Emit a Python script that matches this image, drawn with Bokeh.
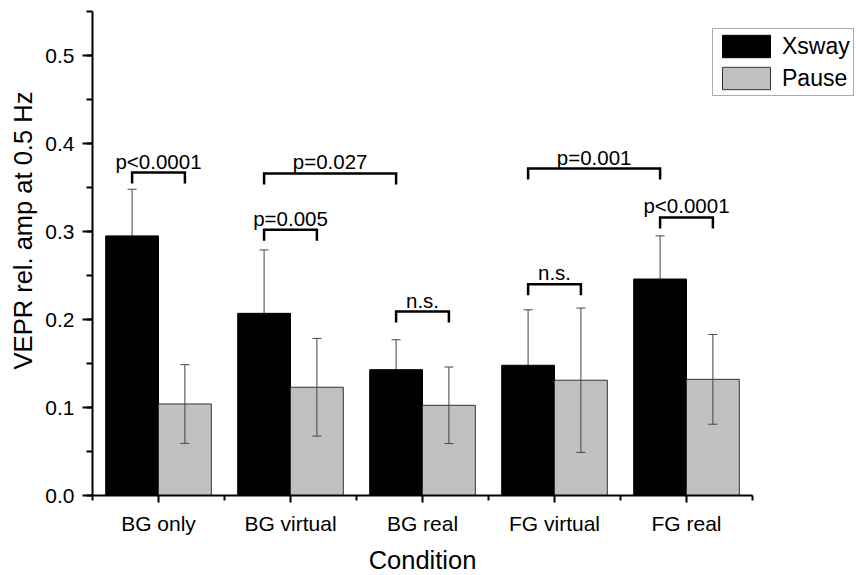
import math
from bokeh.plotting import figure
from bokeh.models import (ColumnDataSource, Whisker, TeeHead, FixedTicker, SingleIntervalTicker,
                          PrintfTickFormatter, Legend, LegendItem, Label, Range1d)
from bokeh.core.properties import value
from bokeh.embed import file_html
from bokeh.resources import INLINE

# ---- data ----
categories = ["BG only", "BG virtual", "BG real", "FG virtual", "FG real"]
xsway = [0.295, 0.207, 0.143, 0.148, 0.246]
xsway_err = [0.053, 0.072, 0.034, 0.063, 0.049]
pause = [0.104, 0.123, 0.1025, 0.131, 0.132]
pause_err = [0.0447, 0.0555, 0.0435, 0.082, 0.051]
y_max = 0.55

# significance brackets: (left category, left series, right category, right series, level, label)
br_left_cat = [0, 1, 1, 2, 3, 3, 4]
br_left_ser = [0, 0, 0, 0, 0, 0, 0]
br_right_cat = [0, 1, 2, 2, 3, 4, 4]
br_right_ser = [1, 1, 0, 1, 1, 0, 1]
br_level = [0.367, 0.302, 0.366, 0.209, 0.240, 0.3715, 0.316]
br_label = ["p<0.0001", "p=0.005", "p=0.027", "n.s.", "n.s.", "p=0.001", "p<0.0001"]
br_leg = 0.0125

FONT = "Liberation Sans"
BAR_W = 0.4
SER_OFF = [-0.2, 0.2]

# layout (pixels)
W, H = 856, 575
AX_LEFT = 92          # x pixel of the y axis
AX_TOP = 11           # y pixel of the top of the y axis
AX_BOTTOM = 495       # y pixel of the x axis
UNIT_PX = 132         # pixels per category

pos = [i + 1 for i in range(len(categories))]

src_x = ColumnDataSource(dict(
    x=[p_ + SER_OFF[0] for p_ in pos], top=xsway,
    upper=[v + e for v, e in zip(xsway, xsway_err)],
    lower=[v - e for v, e in zip(xsway, xsway_err)]))
src_p = ColumnDataSource(dict(
    x=[p_ + SER_OFF[1] for p_ in pos], top=pause,
    upper=[v + e for v, e in zip(pause, pause_err)],
    lower=[v - e for v, e in zip(pause, pause_err)]))

x0 = 0.5 - AX_LEFT / UNIT_PX
x1 = 0.5 + (W - AX_LEFT) / UNIT_PX
ypx = (AX_BOTTOM - AX_TOP) / y_max
y0 = -(H - AX_BOTTOM) / ypx
y1 = y_max + AX_TOP / ypx

p = figure(width=W, height=H, output_backend="svg", toolbar_location=None,
           x_range=Range1d(x0, x1), y_range=Range1d(y0, y1),
           min_border_left=0, min_border_right=0, min_border_top=0, min_border_bottom=0)
p.outline_line_color = None
p.xgrid.grid_line_color = None
p.ygrid.grid_line_color = None
p.background_fill_color = "white"

# error bars under black bars (only upper part visible)
wx = Whisker(source=src_x, base="x", upper="upper", lower="lower", level="underlay",
             line_color="#444444", line_width=1,
             upper_head=TeeHead(size=9, line_color="#444444", line_width=1),
             lower_head=TeeHead(size=9, line_color="#444444", line_width=1))
p.add_layout(wx)

r_x = p.vbar(x="x", top="top", width=BAR_W, source=src_x, fill_color="black", line_color="black", line_width=1)
r_p = p.vbar(x="x", top="top", width=BAR_W, source=src_p, fill_color="#c0c0c0", line_color="#333333", line_width=1)

wp = Whisker(source=src_p, base="x", upper="upper", lower="lower", level="annotation",
             line_color="#444444", line_width=1,
             upper_head=TeeHead(size=9, line_color="#444444", line_width=1),
             lower_head=TeeHead(size=9, line_color="#444444", line_width=1))
p.add_layout(wp)

# brackets
bx, by, tx, ty = [], [], [], []
for lc, ls, rc, rs, lv in zip(br_left_cat, br_left_ser, br_right_cat, br_right_ser, br_level):
    xl = pos[lc] + SER_OFF[ls]
    xr = pos[rc] + SER_OFF[rs]
    bx.append([xl, xl, xr, xr])
    by.append([lv - br_leg, lv, lv, lv - br_leg])
    tx.append((xl + xr) / 2)
    ty.append(lv)
p.multi_line(xs=bx, ys=by, line_color="black", line_width=2.5, line_join="miter")
p.text(x=tx, y=ty, text=br_label, text_align="center", text_baseline="bottom",
       text_font=value(FONT), text_font_size="20.5px", text_color="black")

# axes
xa = p.xaxis[0]
xa.fixed_location = 0
xa.bounds = (0.5, 0.5 + len(categories))
xa.ticker = FixedTicker(ticks=pos, minor_ticks=[0.5 + i for i in range(len(categories) + 1)])
xa.major_label_overrides = {pp: c for pp, c in zip(pos, categories)}
xa.axis_label = "Condition"
xa.axis_label_text_font = FONT
xa.axis_label_text_font_size = "25.5px"
xa.axis_label_text_font_style = "normal"
xa.axis_label_text_color = "black"
xa.axis_label_standoff = 8
xa.major_label_text_font = FONT
xa.major_label_text_font_size = "21px"
xa.major_label_text_color = "black"
xa.major_label_standoff = 9
xa.axis_line_width = 2
xa.axis_line_color = "black"
xa.major_tick_line_width = 2
xa.minor_tick_line_width = 2
xa.major_tick_out = 7
xa.major_tick_in = 0
xa.minor_tick_out = 5
xa.minor_tick_in = 0

ya = p.yaxis[0]
ya.fixed_location = 0.5
ya.bounds = (0, y_max)
ya.ticker = SingleIntervalTicker(interval=0.1, num_minor_ticks=2)
ya.formatter = PrintfTickFormatter(format="%.1f")
ya.major_label_text_font = FONT
ya.major_label_text_font_size = "21px"
ya.major_label_text_color = "black"
ya.major_label_standoff = 8
ya.axis_line_width = 2
ya.axis_line_color = "black"
ya.major_tick_line_width = 2
ya.minor_tick_line_width = 2
ya.major_tick_out = 10
ya.major_tick_in = 0
ya.minor_tick_out = 6
ya.minor_tick_in = 0

ylab = Label(x=22, y=H - 230, x_units="screen", y_units="screen", text="VEPR rel. amp at 0.5 Hz",
             angle=math.pi / 2, text_align="center", text_baseline="middle",
             text_font=FONT, text_font_size="25.5px", text_color="black")
p.add_layout(ylab)

legend = Legend(items=[LegendItem(label="Xsway", renderers=[r_x]),
                       LegendItem(label="Pause", renderers=[r_p])],
                location=(712, 479), border_line_color="#555555", border_line_width=1,
                padding=3, spacing=4, glyph_width=60, glyph_height=28, label_standoff=6,
                label_text_font=FONT, label_text_font_size="23px", label_text_color="black",
                margin=0, background_fill_alpha=1.0)
p.add_layout(legend)

open("out.html", "w").write(file_html(p, INLINE))
